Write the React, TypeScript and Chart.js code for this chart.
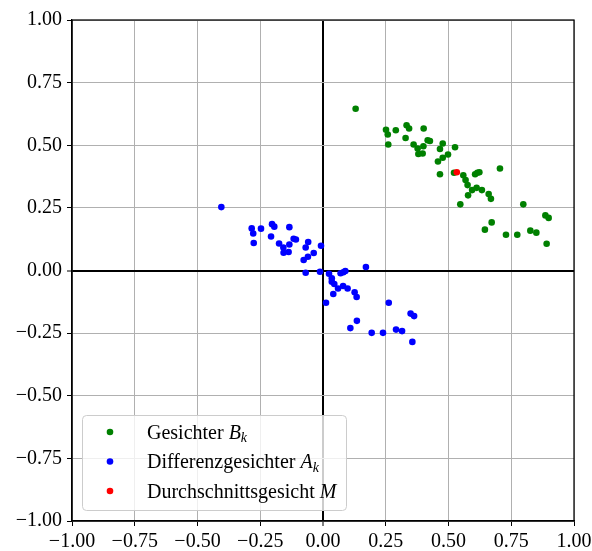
import React, { useEffect, useRef } from "react";
import { Chart, registerables } from "chart.js";

Chart.register(...registerables);

const greenX = [0.130, 0.251, 0.258, 0.290, 0.260, 0.333, 0.343, 0.401, 0.329, 0.361, 0.377, 0.380, 0.397, 0.400, 0.417, 0.426, 0.477, 0.466, 0.526, 0.498, 0.477, 0.458, 0.466, 0.522, 0.559, 0.568, 0.576, 0.594, 0.578, 0.612, 0.633, 0.606, 0.615, 0.623, 0.660, 0.669, 0.547, 0.705, 0.798, 0.886, 0.899, 0.672, 0.645, 0.729, 0.774, 0.826, 0.850, 0.891];
const greenY = [0.646, 0.562, 0.543, 0.560, 0.503, 0.580, 0.567, 0.567, 0.529, 0.503, 0.487, 0.465, 0.467, 0.496, 0.520, 0.517, 0.507, 0.485, 0.492, 0.463, 0.450, 0.435, 0.384, 0.390, 0.380, 0.361, 0.341, 0.321, 0.300, 0.330, 0.321, 0.384, 0.390, 0.392, 0.305, 0.286, 0.264, 0.407, 0.264, 0.220, 0.210, 0.192, 0.163, 0.143, 0.143, 0.159, 0.151, 0.107];

const blueX = [-0.405, -0.284, -0.278, -0.276, -0.247, -0.203, -0.194, -0.207, -0.134, -0.175, -0.158, -0.134, -0.157, -0.137, -0.117, -0.108, -0.059, -0.069, -0.037, -0.060, -0.077, -0.008, -0.069, -0.012, 0.024, 0.035, 0.035, 0.045, 0.070, 0.081, 0.089, 0.171, 0.060, 0.041, 0.080, 0.098, 0.126, 0.134, 0.012, 0.262, 0.135, 0.109, 0.194, 0.239, 0.291, 0.315, 0.349, 0.363, 0.356];
const blueY = [0.253, 0.168, 0.148, 0.110, 0.167, 0.185, 0.175, 0.136, 0.173, 0.108, 0.092, 0.104, 0.071, 0.074, 0.127, 0.124, 0.114, 0.092, 0.070, 0.055, 0.042, 0.099, -0.009, -0.005, -0.013, -0.031, -0.045, -0.054, -0.011, -0.007, -0.002, 0.014, -0.072, -0.094, -0.062, -0.072, -0.087, -0.106, -0.129, -0.129, -0.201, -0.230, -0.249, -0.249, -0.236, -0.242, -0.172, -0.182, -0.285];

const meanX = [0.533];
const meanY = [0.392];

const axisMin = -1;
const axisMax = 1;
const tickStep = 0.25;

const FONT = "'Liberation Serif', 'Times New Roman', serif";

type Part = { t: string; italic?: boolean; sub?: boolean };
const legendEntries: { color: string; parts: Part[] }[] = [
  { color: "#008000", parts: [{ t: "Gesichter " }, { t: "B", italic: true }, { t: "k", italic: true, sub: true }] },
  { color: "#0000ff", parts: [{ t: "Differenzgesichter " }, { t: "A", italic: true }, { t: "k", italic: true, sub: true }] },
  { color: "#ff0000", parts: [{ t: "Durchschnittsgesicht " }, { t: "M", italic: true }] },
];

const toPoints = (xs: number[], ys: number[]) => xs.map((x, i) => ({ x, y: ys[i] }));

const fmt = (v: number) => {
  const s = (Math.round(v * 100) / 100).toFixed(2);
  return s.startsWith("-") ? "\u2212" + s.slice(1) : s;
};

const framePlugin = {
  id: "frameAndLegend",
  afterDraw(chart: any) {
    const ctx = chart.ctx as CanvasRenderingContext2D;
    const a = chart.chartArea;
    ctx.save();
    ctx.strokeStyle = "#000";
    ctx.lineWidth = 1.25;
    ctx.strokeRect(a.left, a.top, a.right - a.left, a.bottom - a.top);

    const bx = 82.5, by = 415.5, bw = 264, bh = 95, r = 4;
    ctx.beginPath();
    ctx.moveTo(bx + r, by);
    ctx.lineTo(bx + bw - r, by);
    ctx.quadraticCurveTo(bx + bw, by, bx + bw, by + r);
    ctx.lineTo(bx + bw, by + bh - r);
    ctx.quadraticCurveTo(bx + bw, by + bh, bx + bw - r, by + bh);
    ctx.lineTo(bx + r, by + bh);
    ctx.quadraticCurveTo(bx, by + bh, bx, by + bh - r);
    ctx.lineTo(bx, by + r);
    ctx.quadraticCurveTo(bx, by, bx + r, by);
    ctx.closePath();
    ctx.fillStyle = "rgba(255,255,255,0.8)";
    ctx.fill();
    ctx.strokeStyle = "#cccccc";
    ctx.lineWidth = 1;
    ctx.stroke();

    legendEntries.forEach((e, i) => {
      const cy = 432 + i * 29.5;
      ctx.beginPath();
      ctx.arc(110, cy, 3.3, 0, Math.PI * 2);
      ctx.fillStyle = e.color;
      ctx.fill();
      let x = 147;
      ctx.fillStyle = "#000";
      ctx.textBaseline = "alphabetic";
      ctx.textAlign = "left";
      e.parts.forEach((p) => {
        const size = p.sub ? 14 : 20;
        ctx.font = `${p.italic ? "italic " : ""}${size}px ${FONT}`;
        const y = cy + 6.5 + (p.sub ? 3.5 : 0);
        ctx.fillText(p.t, x, y);
        x += ctx.measureText(p.t).width;
      });
    });
    ctx.restore();
  },
};

export default function App() {
  const ref = useRef<HTMLCanvasElement | null>(null);
  useEffect(() => {
    if (!ref.current) return;
    const gridColor = (c: any) => (c.tick && Math.abs(c.tick.value) < 1e-9 ? "#000000" : "#b0b0b0");
    const gridWidth = (c: any) => (c.tick && Math.abs(c.tick.value) < 1e-9 ? 2 : 1);
    const tickFont = { family: FONT, size: 20 };
    const chart = new Chart(ref.current, {
      type: "scatter",
      data: {
        datasets: [
          { label: "Durchschnittsgesicht M", data: toPoints(meanX, meanY), backgroundColor: "#ff0000", borderWidth: 0, pointRadius: 3.3, order: 0 },
          { label: "Differenzgesichter A_k", data: toPoints(blueX, blueY), backgroundColor: "#0000ff", borderWidth: 0, pointRadius: 3.3, order: 1 },
          { label: "Gesichter B_k", data: toPoints(greenX, greenY), backgroundColor: "#008000", borderWidth: 0, pointRadius: 3.3, order: 2 },
        ],
      },
      options: {
        animation: false,
        responsive: false,
        layout: { padding: { top: 20, right: 18, left: 0, bottom: 0 } },
        plugins: { legend: { display: false }, tooltip: { enabled: false } },
        scales: {
          x: {
            type: "linear",
            min: axisMin,
            max: axisMax,
            afterFit: (s: any) => { s.height = 30; s.paddingLeft = 0; s.paddingRight = 0; },
            ticks: { stepSize: tickStep, color: "#000", font: tickFont, padding: 4, maxRotation: 0, callback: (v: any) => fmt(Number(v)) },
            grid: { color: gridColor, lineWidth: gridWidth, tickColor: "#000", tickWidth: 1, tickLength: 5 },
            border: { color: "#000", width: 1.25 },
          },
          y: {
            type: "linear",
            min: axisMin,
            max: axisMax,
            afterFit: (s: any) => { s.width = 72; s.paddingTop = 0; s.paddingBottom = 0; },
            ticks: { stepSize: tickStep, color: "#000", font: tickFont, padding: 5, callback: (v: any) => fmt(Number(v)) },
            grid: { color: gridColor, lineWidth: gridWidth, tickColor: "#000", tickWidth: 1, tickLength: 5 },
            border: { color: "#000", width: 1.25 },
          },
        },
      },
      plugins: [framePlugin],
    } as any);
    return () => chart.destroy();
  }, []);
  return (
    <div style={{ position: "absolute", left: 0, top: 0, width: 592, height: 551 }}>
      <canvas ref={ref} width={592} height={551} style={{ display: "block" }} />
    </div>
  );
}
